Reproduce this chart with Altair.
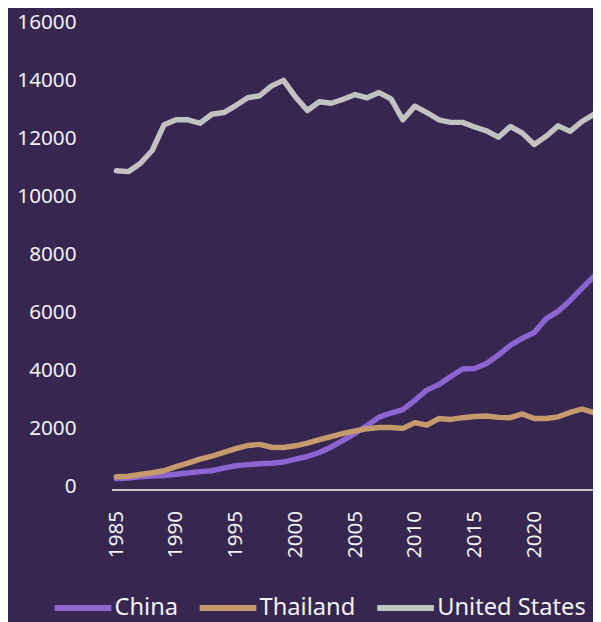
import altair as alt
import pandas as pd

years = list(range(1985, 2026))
countries = ["China", "Thailand", "United States"]
colors = ["#8c65d3", "#c59a6d", "#c2c2c2"]

china = [280, 300, 340, 370, 385, 430, 470, 520, 550, 640,
         720, 760, 790, 810, 850, 950, 1040, 1180, 1370, 1600,
         1840, 2110, 2400, 2540, 2660, 2980, 3330, 3520, 3800, 4060,
         4080, 4250, 4540, 4880, 5120, 5320, 5800, 6050, 6420, 6850, 7250]
thailand = [340, 360, 420, 480, 550, 690, 810, 950, 1050, 1180,
            1310, 1420, 1460, 1360, 1350, 1410, 1500, 1620, 1730, 1840,
            1920, 2000, 2040, 2040, 2010, 2210, 2120, 2350, 2320, 2380,
            2420, 2440, 2390, 2380, 2510, 2350, 2350, 2410, 2560, 2680, 2550]
usa = [10900, 10870, 11150, 11600, 12490, 12660, 12660, 12540, 12850, 12910,
       13150, 13420, 13490, 13830, 14020, 13450, 12980, 13280, 13230, 13370,
       13530, 13420, 13600, 13380, 12660, 13130, 12910, 12660, 12570, 12570,
       12410, 12280, 12060, 12430, 12200, 11810, 12090, 12450, 12260, 12600, 12850]

x_ticks = [1985, 1990, 1995, 2000, 2005, 2010, 2015, 2020]
y_ticks = [0, 2000, 4000, 6000, 8000, 10000, 12000, 14000, 16000]

rows = []
for name, vals in zip(countries, [china, thailand, usa]):
    for yr, v in zip(years, vals):
        rows.append({"country": name, "year": yr, "value": v})
df = pd.DataFrame(rows)

FONT = "Noto Sans"
TXT = "#f2f2f2"

chart = alt.Chart(df).mark_line(
    strokeWidth=5.5, strokeCap="round", strokeJoin="round", clip=True
).encode(
    x=alt.X("year:Q",
            scale=alt.Scale(domain=[1984.6, 2024.92], nice=False, zero=False),
            axis=alt.Axis(values=x_ticks, format="d", labelAngle=-90, title=None,
                          grid=False, ticks=False, domainColor="#c8c8c8",
                          domainWidth=2, labelPadding=21, offset=3,
                          labelAlign="right", labelBaseline="middle",
                          labelFontSize=21, labelColor=TXT, labelFont=FONT)),
    y=alt.Y("value:Q",
            scale=alt.Scale(domain=[0, 16000], nice=False),
            axis=alt.Axis(values=y_ticks, format="d", title=None, grid=False,
                          ticks=False, domain=False, labelPadding=36,
                          labelFontSize=21, labelColor=TXT, labelFont=FONT)),
    color=alt.Color("country:N",
                    scale=alt.Scale(domain=countries, range=colors),
                    legend=alt.Legend(title=None, orient="none", legendX=-61,
                                      legendY=561, direction="horizontal",
                                      symbolType="stroke", symbolStrokeWidth=6,
                                      symbolSize=3300, labelFontSize=24,
                                      labelColor=TXT, labelFont=FONT,
                                      columnPadding=9, labelOffset=0)),
).properties(
    width=488, height=470,
    autosize=alt.AutoSizeParams(type="none"),
    padding={"left": 105, "top": 11, "right": 0, "bottom": 133},
    background="#362650",
).configure_view(stroke=None)

chart.save("out.html", embed_options={"renderer": "svg", "actions": False})
